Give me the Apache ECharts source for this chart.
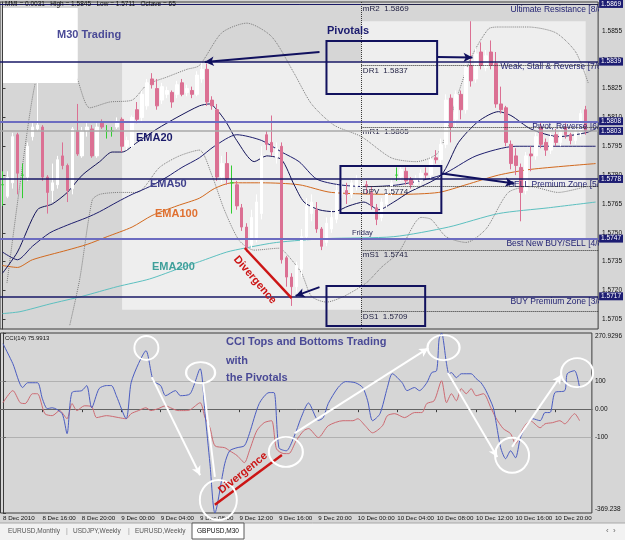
<!DOCTYPE html>
<html><head><meta charset="utf-8">
<script src="https://cdn.jsdelivr.net/npm/echarts@6.0.0/dist/echarts.min.js"></script>
<style>html,body{margin:0;padding:0;background:#d6d6d6;overflow:hidden}#chart{width:625px;height:540px}</style>
</head><body><div id="chart"></div>
<script>
// ================= DATA =================
const timeLabels = ['8 Dec 2010','8 Dec 16:00','8 Dec 20:00','9 Dec 00:00','9 Dec 04:00','9 Dec 08:00','9 Dec 12:00','9 Dec 16:00','9 Dec 20:00','10 Dec 00:00','10 Dec 04:00','10 Dec 08:00','10 Dec 12:00','10 Dec 16:00','10 Dec 20:00'];
const barsPerLabel = 8;
const barCount = 120;

// [open, close, low, high] GBPUSD M30
const ohlc = [
[1.5775,1.5775,1.5764,1.5782],[1.5769,1.5779,1.5768,1.5782],[1.5776,1.5800,1.5773,1.5802],[1.5801,1.5781,1.5770,1.5802],
[1.5780,1.5780,1.5768,1.5786],[1.5779,1.5795,1.5777,1.5797],[1.5800,1.5805,1.5798,1.5807],[1.5804,1.5806,1.5803,1.5828],
[1.5805,1.5779,1.5777,1.5806],[1.5779,1.5771,1.5760,1.5780],[1.5772,1.5776,1.5766,1.5786],[1.5775,1.5788,1.5773,1.5790],
[1.5790,1.5785,1.5783,1.5797],[1.5785,1.5772,1.5766,1.5786],[1.5773,1.5804,1.5770,1.5805],[1.5803,1.5791,1.5790,1.5817],
[1.5790,1.5803,1.5789,1.5805],[1.5803,1.5805,1.5800,1.5807],[1.5804,1.5790,1.5789,1.5806],[1.5790,1.5805,1.5789,1.5807],
[1.5807,1.5805,1.5804,1.5809],[1.5803,1.5803,1.5799,1.5806],[1.5803,1.5803,1.5800,1.5805],[1.5805,1.5808,1.5804,1.5810],
[1.5809,1.5795,1.5792,1.5810],[1.5795,1.5798,1.5793,1.5800],[1.5795,1.5810,1.5794,1.5811],[1.5814,1.5809,1.5807,1.5818],
[1.5810,1.5822,1.5808,1.5824],[1.5816,1.5828,1.5814,1.5830],[1.5830,1.5827,1.5825,1.5833],[1.5825,1.5816,1.5814,1.5830],
[1.5819,1.5826,1.5817,1.5828],[1.5822,1.5824,1.5820,1.5826],[1.5823,1.5818,1.5815,1.5824],[1.5822,1.5827,1.5820,1.5829],
[1.5828,1.5822,1.5821,1.5830],[1.5823,1.5825,1.5821,1.5827],[1.5824,1.5822,1.5820,1.5826],[1.5822,1.5832,1.5821,1.5834],
[1.5830,1.5835,1.5828,1.5839],[1.5835,1.5818,1.5816,1.5838],[1.5819,1.5816,1.5814,1.5821],[1.5814,1.5779,1.5777,1.5817],
[1.5779,1.5786,1.5776,1.5790],[1.5786,1.5778,1.5775,1.5792],[1.5776,1.5776,1.5760,1.5785],[1.5775,1.5764,1.5762,1.5777],
[1.5763,1.5753,1.5751,1.5765],[1.5753,1.5742,1.5740,1.5755],[1.5744,1.5758,1.5742,1.5762],[1.5747,1.5766,1.5745,1.5770],
[1.5760,1.5790,1.5757,1.5795],[1.5801,1.5796,1.5793,1.5803],[1.5797,1.5792,1.5790,1.5811],[1.5789,1.5794,1.5786,1.5797],
[1.5795,1.5736,1.5734,1.5797],[1.5737,1.5727,1.5722,1.5738],[1.5727,1.5722,1.5712,1.5729],[1.5722,1.5733,1.5719,1.5735],
[1.5731,1.5748,1.5727,1.5752],[1.5748,1.5764,1.5746,1.5768],[1.5760,1.5766,1.5756,1.5770],[1.5762,1.5752,1.5750,1.5766],
[1.5752,1.5743,1.5741,1.5753],[1.5745,1.5755,1.5743,1.5758],[1.5752,1.5758,1.5750,1.5762],[1.5757,1.5772,1.5755,1.5775],
[1.5770,1.5774,1.5768,1.5777],[1.5772,1.5770,1.5765,1.5776],[1.5770,1.5776,1.5768,1.5778],[1.5774,1.5778,1.5772,1.5780],
[1.5774,1.5776,1.5772,1.5778],[1.5775,1.5774,1.5770,1.5777],[1.5771,1.5764,1.5762,1.5774],[1.5763,1.5757,1.5754,1.5765],
[1.5758,1.5766,1.5756,1.5768],[1.5765,1.5772,1.5763,1.5774],[1.5771,1.5776,1.5769,1.5778],[1.5780,1.5780,1.5777,1.5784],
[1.5779,1.5783,1.5777,1.5785],[1.5782,1.5777,1.5775,1.5784],[1.5778,1.5775,1.5773,1.5779],[1.5775,1.5778,1.5773,1.5780],
[1.5777,1.5781,1.5775,1.5783],[1.5781,1.5780,1.5778,1.5784],[1.5780,1.5788,1.5778,1.5790],[1.5789,1.5788,1.5786,1.5793],
[1.5788,1.5796,1.5786,1.5799],[1.5796,1.5819,1.5794,1.5822],[1.5820,1.5805,1.5797,1.5822],[1.5809,1.5822,1.5805,1.5824],
[1.5822,1.5814,1.5809,1.5824],[1.5814,1.5836,1.5812,1.5838],[1.5837,1.5829,1.5826,1.5860],[1.5830,1.5843,1.5828,1.5846],
[1.5844,1.5837,1.5835,1.5849],[1.5836,1.5842,1.5834,1.5845],[1.5844,1.5837,1.5835,1.5850],[1.5838,1.5817,1.5815,1.5844],
[1.5817,1.5814,1.5812,1.5826],[1.5815,1.5797,1.5795,1.5816],[1.5796,1.5786,1.5783,1.5798],[1.5790,1.5785,1.5780,1.5794],
[1.5784,1.5771,1.5756,1.5786],[1.5772,1.5790,1.5770,1.5792],[1.5791,1.5790,1.5782,1.5795],[1.5790,1.5800,1.5788,1.5802],
[1.5805,1.5796,1.5794,1.5808],[1.5797,1.5793,1.5790,1.5799],[1.5793,1.5800,1.5791,1.5802],[1.5801,1.5797,1.5795,1.5804],
[1.5797,1.5803,1.5795,1.5805],[1.5805,1.5801,1.5799,1.5807],[1.5801,1.5798,1.5796,1.5802],[1.5798,1.5803,1.5796,1.5805],
[1.5802,1.5812,1.5800,1.5814],[1.5814,1.5803,1.5801,1.5816]
];

// moving averages / bands: [bar index, price]
const ema20 = [[0,1.5729],[3,1.5740],[7,1.5762],[10,1.5765],[13,1.5771],[16,1.5780],[19.5,1.5787],[22,1.5792],[24,1.5792],[27,1.5797],[31,1.5804],[35,1.5810],[39.5,1.5816],[41.5,1.5817],[44.5,1.5809],[47,1.5798],[50.5,1.5787],[53,1.5790],[56,1.5788],[58.5,1.5775],[60.5,1.5766],[63.5,1.5762],[66.5,1.5761],[69.5,1.5764],[72.5,1.5766],[75.5,1.5762],[78.5,1.5766],[81.5,1.5771],[88,1.5780],[91.5,1.5797],[95.5,1.5808],[99.5,1.5813],[102,1.5811],[106,1.5804],[111.5,1.5800],[117,1.5802],[119,1.5804]];
const ema50 = [[0,1.5740],[3,1.5736],[6,1.5743],[9.5,1.5750],[13,1.5754],[17,1.5758],[19.5,1.5761],[23,1.5766],[26,1.5770],[29.5,1.5774],[33,1.5779],[36,1.5784],[39.5,1.5789],[42.5,1.5795],[47,1.5801],[52,1.5798],[56,1.5792],[59.5,1.5787],[63,1.5778],[67.5,1.5775],[73,1.5774],[79.5,1.5775],[88,1.5780],[95,1.5790],[103,1.5795],[109.5,1.5795],[119,1.5795]];
const ema100 = [[0,1.5733],[3,1.5732],[6,1.5736],[13,1.5741],[17,1.5744],[21,1.5748],[26,1.5753],[30,1.5759],[35,1.5764],[39.5,1.5768],[42.5,1.5773],[46,1.5776],[52,1.5776],[59.5,1.5775],[66,1.5771],[79.5,1.5770],[87.5,1.5771],[93,1.5775],[99.5,1.5780],[106,1.5783],[119,1.5786]];
const ema200 = [[0,1.5708],[3.5,1.5709],[9.5,1.5713],[16,1.5717],[23,1.5722],[29.5,1.5726],[36,1.5732],[39.5,1.5735],[45,1.5740],[48.5,1.5742],[55,1.5745],[65,1.5747],[78.5,1.5748],[89.5,1.5753],[99.5,1.5760],[109.5,1.5763],[119,1.5766]];
const bbUpper = [[0.9,1.5724],[3.5,1.5775],[6.5,1.5827],[9.5,1.5848],[12.5,1.5845],[15,1.5830],[17.5,1.5815],[21.5,1.5818],[26,1.5819],[29,1.5827],[33,1.5831],[37,1.5835],[39.5,1.5837],[44,1.5854],[49,1.5859],[54,1.5852],[58.5,1.5833],[62,1.5817],[66.5,1.5806],[72,1.5800],[78,1.5789],[83,1.5787],[87.5,1.5792],[91,1.5819],[94,1.5841],[97.5,1.5856],[99.5,1.5857],[105.5,1.5857],[111,1.5854],[115,1.5844],[117.5,1.5828]];
const bbLower = [[13.5,1.5702],[15.5,1.5726],[18,1.5767],[19.5,1.5770],[23.5,1.5771],[27,1.5771],[31.5,1.5784],[35.5,1.5790],[39.5,1.5793],[42,1.5780],[44.5,1.5762],[47.5,1.5746],[50.5,1.5741],[55.5,1.5742],[57,1.5739],[60,1.5729],[62,1.5717],[65,1.5714],[68.5,1.5717],[73,1.5724],[76,1.5732],[79.5,1.5740],[84,1.5758],[86,1.5757],[89,1.5748],[93,1.5745],[97,1.5752],[101.5,1.5771],[106,1.5774],[111.5,1.5771],[117,1.5774]];

// CCI(14) and its signal line: [bar index, value]
const cciMain = [[0,233],[2,162],[4,77],[5,94],[7,94],[8,37],[9,2],[10,5],[12,-16],[13,-87],[14,59],[16,66],[17,84],[18,5],[19.5,73],[21,84],[22,84],[23,48],[25,-34],[26,94],[27.5,162],[29,208],[30.5,101],[32,84],[33,48],[35,66],[36,48],[38,55],[40,144],[41,-16],[42,-194],[43,-369.2],[45,-194],[46,-148],[47.5,-137],[49,-130],[50,-87],[52,20],[54,59],[55,59],[56,-137],[57.5,-148],[59,-101],[60.5,-30],[62,22],[64,-40],[65,-30],[66,20],[68,77],[69.5,98],[71.5,94],[73,77],[74,30],[75,-41],[76.5,-16],[78,77],[79,126],[81,94],[82,66],[83.5,77],[84.5,66],[86,94],[87,130],[88,137],[88.5,250],[89,270.9],[90,162],[90.5,126],[91,130],[92,112],[93,126],[95,126],[96,109],[97,94],[98,66],[99.5,5],[100,-41],[101,-137],[102,-176],[103,-148],[104,-173],[105,-101],[106,-66],[107.5,-34],[109,-41],[110,-12],[111,-12],[112,59],[114,66],[114.5,126],[116,137],[117,76]];
const cciSignal = [[0,23],[2,66],[3.5,23],[4.5,20],[6,55],[7,55],[8.5,-16],[10,-23],[11.5,-5],[13,-34],[14,20],[15,-5],[16.5,12],[18,9],[19,-30],[21,-23],[23.5,-30],[25,-34],[26,-16],[27.5,-5],[29,5],[30,-5],[31.5,2],[33,12],[34,5],[35.5,-5],[37,-5],[38,-2],[40,23],[41,-30],[42,-66],[43,-130],[45,-137],[46,-148],[47.5,-165],[49,-190],[50,-148],[51.5,-77],[53,-48],[54.5,-41],[55.5,-141],[57,-158],[58,-158],[59.5,-112],[61,-77],[62,-69],[64,-101],[66,-59],[69,-41],[71,-41],[72,-34],[73.5,-59],[75,-84],[77,-59],[78,-23],[79.5,-16],[81.5,-30],[83.5,-12],[85,-12],[86,20],[87.5,30],[89,101],[90,23],[91,55],[92,30],[93,73],[94,55],[95,73],[96,48],[97.5,55],[99,5],[100,-30],[101.5,-69],[103,-87],[104,-123],[105.5,-69],[107,-41],[109,-66],[110,-52],[111.5,-48],[113,-41],[114,-52],[115.5,-23],[116,-16],[117,-41]];

const priceTicks = [1.5855,1.5840,1.5825,1.5810,1.5795,1.5780,1.5765,1.5750,1.5735,1.5720,1.5705];
const cciTicks = [270.9296,100,0,-100,-369.238];
const cciTickText = ['270.9296','100','0.00','-100','-369.238'];

const murreyLevels = [1.5869,1.5839,1.5808,1.5778,1.5747,1.5717];
const murreyNames = ['Ultimate Resistance [8/8]','Weak, Stall & Reverse [7/8]','Pivot, Reverse [6/8]','SELL Premium Zone [5/8]','Best New BUY/SELL [4/8]','BUY Premium Zone [3/8]'];
const bidPrice = 1.5803;
const pivotNames = ['mR2','DR1','mR1','DPV','mS1','DS1'];
const pivotValues = [1.5869,1.5837,1.5805,1.5774,1.5741,1.5709];
// day ranges: [fromBar, toBar, high, low]
const dayRanges = [[24,72,1.5839,1.5710],[72,117,1.5860,1.5747]];
const headerNames = ['MMI','High','Low','Octave'];
const headerValues = ['0.0031','1.5845','1.5711','65'];
const cciPeriod = 14, cciLast = 75.9913;
const tabs = ['EURUSD,Monthly','USDJPY,Weekly','EURUSD,Weekly','GBPUSD,M30'];

// ================= LAYOUT (annotation placement) =================
const L = {
  sepBar: 72,
  xMin: -0.5, xMax: 119.5,
  murreyTextAt: [101.9, 99.9, 106.3, 101.5, 101.1, 101.9],
  pivotTextAt: 72.3,
  whiteBox: [[0.1,1.58669],[15.1,1.58279]],
  boxes: [[[65.0,1.58497],[87.2,1.58222]], [[67.8,1.57847],[88.05,1.57603]], [[65.0,1.57224],[84.8,1.57016]]],
  arrowsMain: [[[63.6,1.58440],[40.6,1.58388]], [[87.2,1.58414],[94.3,1.58411]], [[88.2,1.57808],[102.7,1.57757]], [[63.6,1.57218],[58.8,1.57172]]],
  divMain: [[48.6,1.57421],[58.0,1.57161]],
  divCci: [[43.0,-340],[56.6,-163]],
  cciArrows: [[[30.2,114],[40.0,-235],1],[[40.6,93],[43.0,-241],0],[[59.2,-85],[86.3,217],1],[[90.3,129],[100.3,-170],1],[[103.3,-134],[113.3,122],1]],
  circles: [[29.1,218,24,24],[40.1,130,29,21],[43.7,-323,37,40],[57.4,-152,34,30],[89.4,219,32,25],[103.3,-164,34,35],[116.5,130,32,29]]
};

// ================= BUILD =================
const FF = '"Liberation Sans", Arial, sans-serif';
const NAVY = '#191966';
const categories = Array.from({length: barCount}, (_, i) => i);
const dojiStyle = {color:'#32cd32', color0:'#32cd32', borderColor:'#32cd32', borderColor0:'#32cd32'};
const candleData = ohlc.map(r => r[0] === r[1] ? {value: r, itemStyle: dojiStyle} : r);

const murreyColors = [NAVY, NAVY, '#6c6cc0', NAVY, '#6c6cc0', NAVY];
const murreyWidths = [1, 1.5, 2, 1.5, 2, 1.5];
const priceLabel = {show:true, position:'end', distance:1, color:'#ffffff', backgroundColor:'#1c1c72',
  padding:[1,2,0,2], fontSize:6.5, fontFamily:FF};

function hLine(v, lineStyle, label) {
  return [{coord:[L.xMin, v], lineStyle, label}, {coord:[L.xMax, v]}];
}
const mainLines = [];
murreyLevels.forEach((v,k) => mainLines.push(hLine(v, {color:murreyColors[k], width:murreyWidths[k], type:'solid'},
  Object.assign({formatter: v.toFixed(4)}, priceLabel))));
mainLines.push(hLine(bidPrice, {color:'#a9a9a9', width:1.5, type:'solid'}, Object.assign({formatter: bidPrice.toFixed(4)}, priceLabel)));
pivotValues.forEach(v => mainLines.push([{coord:[L.sepBar, v], lineStyle:{color:'#2a2a2a', width:1, type:'dotted'}, label:{show:false}}, {coord:[L.xMax, v]}]));
mainLines.push([{coord:[L.sepBar, 1.5870], lineStyle:{color:'#3a3a3a', width:1, type:'dotted'}, label:{show:false}}, {coord:[L.sepBar, 1.5700]}]);

function lineSeries(name, data, color, width, type, xi, yi, z) {
  return {name, type:'line', data, xAxisIndex:xi, yAxisIndex:yi, showSymbol:false, symbol:'none', silent:true,
    smooth:0.25, lineStyle:{color, width, type}, z: z || 2, animation:false};
}
function textSeries(rows, texts, color, font, dx, z) {
  return {type:'custom', xAxisIndex:1, yAxisIndex:0, clip:true, silent:true, z: z || 4, data: rows, encode:{x:0, y:1},
    renderItem: (params, api) => {
      const p = api.coord([api.value(0), api.value(1)]);
      return {type:'text', x: p[0] + dx, y: p[1] + 1,
        style:{text: texts[params.dataIndex], fill: color, font, align:'left', verticalAlign:'top', textAlign:'left', textVerticalAlign:'top'}};
    }};
}
function gtext(text, x, y, font, fill, extra) {
  return Object.assign({type:'text', x, y, z:100, silent:true,
    style:{text, font, fill, align:'left', verticalAlign:'middle', textAlign:'left', textVerticalAlign:'middle'}}, extra || {});
}
function rtext(text, x, y, rot) {
  const font = 'bold 11px ' + FF;
  return {type:'text', x, y, z:100, silent:true, rotation:rot,
    style:{text, font, fill:'#cc1515', align:'center', verticalAlign:'middle', textAlign:'center', textVerticalAlign:'middle'}};
}

const headerText = headerNames.map((n,k) => n + ' = ' + headerValues[k]).join('   ');

const option = {
  animation:false,
  backgroundColor:'#d6d6d6',
  grid:[
    {left:0, top:2, width:599, height:327, show:true, backgroundColor:'#d6d6d6', borderColor:'#3c3c3c', borderWidth:1},
    {left:0, top:333, width:599, height:180, show:true, backgroundColor:'#d6d6d6', borderColor:'#3c3c3c', borderWidth:1}
  ],
  xAxis:[
    {type:'category', gridIndex:0, data:categories, boundaryGap:true, show:false},
    {type:'value', gridIndex:0, min:L.xMin, max:L.xMax, show:false},
    {type:'category', gridIndex:1, data:categories, boundaryGap:true,
      axisLine:{show:true, lineStyle:{color:'#3c3c3c'}},
      axisTick:{show:true, interval:(i)=> i % barsPerLabel === 0, length:3, alignWithLabel:true, lineStyle:{color:'#3c3c3c'}},
      axisLabel:{interval:(i)=> i % barsPerLabel === 0, formatter:(v, i)=> timeLabels[Math.round(i / barsPerLabel)] || '',
        align:'left', margin:2, fontSize:6.2, color:'#111', fontFamily:FF}},
    {type:'value', gridIndex:1, min:L.xMin, max:L.xMax, show:false}
  ],
  yAxis:[
    {type:'value', gridIndex:0, position:'right', min:1.5700, max:1.5870,
      axisLine:{show:true, lineStyle:{color:'#3c3c3c'}},
      axisTick:{show:true, customValues:priceTicks, length:3, lineStyle:{color:'#3c3c3c'}},
      axisLabel:{customValues:priceTicks, formatter:(v)=> v.toFixed(4), fontSize:6.5, color:'#111', margin:4, fontFamily:FF},
      splitLine:{show:false}},
    {type:'value', gridIndex:1, position:'right', min:-369.238, max:270.9296,
      axisLine:{show:true, lineStyle:{color:'#3c3c3c'}},
      axisTick:{show:true, customValues:cciTicks, length:3, lineStyle:{color:'#3c3c3c'}},
      axisLabel:{customValues:cciTicks, margin:3, fontSize:6.5, color:'#111', fontFamily:FF,
        formatter:(v)=>{ const k = cciTicks.indexOf(v); const t = cciTickText[k];
          if (k === 0) return '{t|' + t + '}'; if (k === cciTicks.length - 1) return '{b|' + t + '}'; return t; },
        rich:{t:{padding:[6,0,0,0], fontSize:6.5, fontFamily:FF, color:'#111'}, b:{padding:[0,0,8,0], fontSize:6.5, fontFamily:FF, color:'#111'}}},
      splitLine:{show:false}}
  ],
  series:[
    {type:'line', xAxisIndex:1, yAxisIndex:0, data:[], silent:true,
      markArea:{z:1, silent:true, label:{show:false}, itemStyle:{color:'#eeeeee'},
        data: dayRanges.map(d => [{coord:[d[0], d[2]]}, {coord:[d[1], d[3]]}])}},
    lineSeries('BB upper', bbUpper, '#7c7c7c', 1, 'dotted', 1, 0),
    lineSeries('BB lower', bbLower, '#7c7c7c', 1, 'dotted', 1, 0),
    lineSeries('EMA200', ema200, '#5cc0c0', 1, 'solid', 1, 0),
    lineSeries('EMA100', ema100, '#d2691e', 1, 'solid', 1, 0),
    lineSeries('EMA50', ema50, '#1f1f6e', 1, 'solid', 1, 0),
    lineSeries('EMA20', ema20, '#14145a', 1, 'solid', 1, 0),
    {type:'candlestick', xAxisIndex:0, yAxisIndex:0, data:candleData, barWidth:3, silent:true, z:3,
      itemStyle:{color:'#ffffff', color0:'#db7093', borderColor:'#ffffff', borderColor0:'#db7093', borderWidth:1}},
    {type:'line', xAxisIndex:1, yAxisIndex:0, data:[], silent:true,
      markLine:{silent:true, symbol:'none', z:5, animation:false, label:{show:false}, data: mainLines}},
    {type:'line', xAxisIndex:1, yAxisIndex:0, data:[], silent:true,
      markArea:{z:4, silent:true, label:{show:false}, itemStyle:{color:'#ffffff'}, data:[[{coord:L.whiteBox[0]}, {coord:L.whiteBox[1]}]]}},
    {type:'line', xAxisIndex:1, yAxisIndex:0, data:[], silent:true,
      markArea:{z:6, silent:true, label:{show:false}, itemStyle:{color:'rgba(0,0,0,0)', borderColor:'#12125e', borderWidth:2},
        data: L.boxes.map(b => [{coord:b[0]}, {coord:b[1]}])}},
    {type:'line', xAxisIndex:1, yAxisIndex:0, data:[], silent:true,
      markLine:{silent:true, z:7, animation:false, label:{show:false}, symbol:['none','arrow'], symbolSize:[7,9],
        lineStyle:{color:'#10105e', width:2, type:'solid'},
        data: L.arrowsMain.map(a => [{coord:a[0]}, {coord:a[1]}]).concat([[
          {coord:L.divMain[0], symbol:'none', lineStyle:{color:'#cc1515', width:2.5, type:'solid'}}, {coord:L.divMain[1], symbol:'none'}]])}},
    textSeries(murreyLevels.map((v,k)=>[L.murreyTextAt[k], v]), murreyNames, '#1e1e70', '8.5px ' + FF, 0, 4),
    textSeries(pivotValues.map(v=>[L.pivotTextAt, v]), pivotNames.map((n,k)=> n + '  ' + pivotValues[k].toFixed(4)), '#222244', '8px ' + FF, 0, 4),
    lineSeries('CCI signal', cciSignal, '#cd6a72', 1, 'solid', 3, 1),
    lineSeries('CCI', cciMain, '#4a5cc0', 1, 'solid', 3, 1),
    {type:'line', xAxisIndex:3, yAxisIndex:1, data:[], silent:true, z:1,
      markLine:{silent:true, symbol:'none', z:1, animation:false, label:{show:false},
        lineStyle:{color:'#8c8c8c', width:1, type:'dotted'},
        data:[100,0,-100].map(v => [{coord:[L.xMin, v]}, {coord:[L.xMax, v]}])}},
    {type:'line', xAxisIndex:3, yAxisIndex:1, data:[], silent:true,
      markLine:{silent:true, z:7, animation:false, label:{show:false}, symbolSize:[7,9],
        lineStyle:{color:'#ffffff', width:2, type:'solid'},
        data: L.cciArrows.map(a => [{coord:a[0], symbol:'none'}, {coord:a[1], symbol: a[2] ? 'arrow' : 'none'}]).concat([[
          {coord:L.divCci[0], symbol:'none', lineStyle:{color:'#cc1515', width:2.5, type:'solid'}}, {coord:L.divCci[1], symbol:'none'}]])},
      markPoint:{silent:true, z:7, animation:false, label:{show:false},
        data: L.circles.map(c => ({coord:[c[0], c[1]], symbol:'circle', symbolSize:[c[2], c[3]],
          itemStyle:{color:'rgba(0,0,0,0)', borderColor:'#ffffff', borderWidth:2}}))}}
  ],
  graphic:[
    gtext(headerText, 5, 4, '6.5px ' + FF, '#111'),
    gtext('M30 Trading', 57, 35, 'bold 11px ' + FF, '#4a4a96'),
    gtext('Pivotals', 327, 31, 'bold 11px ' + FF, '#1a1a6e'),
    gtext('EMA20', 136, 138, 'bold 11px ' + FF, '#1a1a6a'),
    gtext('EMA50', 150, 184, 'bold 11px ' + FF, '#40408c'),
    gtext('EMA100', 155, 214, 'bold 11px ' + FF, '#e07030'),
    gtext('EMA200', 152, 267, 'bold 11px ' + FF, '#3f9f9a'),
    gtext('Friday', 352, 233, '7.5px ' + FF, '#2a2a5a'),
    rtext('Divergence', 255, 280, -0.86),
    gtext('CCI(' + cciPeriod + ') ' + cciLast.toFixed(4), 5, 338, '6px ' + FF, '#111'),
    gtext('CCI Tops and Bottoms Trading', 226, 342, 'bold 11px ' + FF, '#4a4a96'),
    gtext('with', 226, 361, 'bold 11px ' + FF, '#4a4a96'),
    gtext('the Pivotals', 226, 378, 'bold 11px ' + FF, '#4a4a96'),
    rtext('Divergence', 243, 473, 0.68),
    {type:'rect', z:100, silent:true, shape:{x:0, y:523, width:625, height:17}, style:{fill:'#f2f2f2'}},
    {type:'line', z:100, silent:true, shape:{x1:0, y1:523, x2:625, y2:523}, style:{stroke:'#a8a8a8', lineWidth:1}},
    {type:'rect', z:101, silent:true, shape:{x:192, y:523, width:52, height:16}, style:{fill:'#ffffff', stroke:'#5a5a5a', lineWidth:1}},
    gtext(tabs[0], 8, 531, '6.5px ' + FF, '#555'),
    gtext('|', 66, 531, '7px ' + FF, '#999'),
    gtext(tabs[1], 73, 531, '6.5px ' + FF, '#555'),
    gtext('|', 128, 531, '7px ' + FF, '#999'),
    gtext(tabs[2], 135, 531, '6.5px ' + FF, '#555'),
    Object.assign(gtext(tabs[3], 197, 531, '6.5px ' + FF, '#111'), {z:102}),
    gtext('\u2039  \u203A', 606, 531, '8px ' + FF, '#666')
  ]
};

const chart = echarts.init(document.getElementById('chart'), null, {renderer:'canvas', width:625, height:540});
chart.setOption(option);
</script>
</body></html>
